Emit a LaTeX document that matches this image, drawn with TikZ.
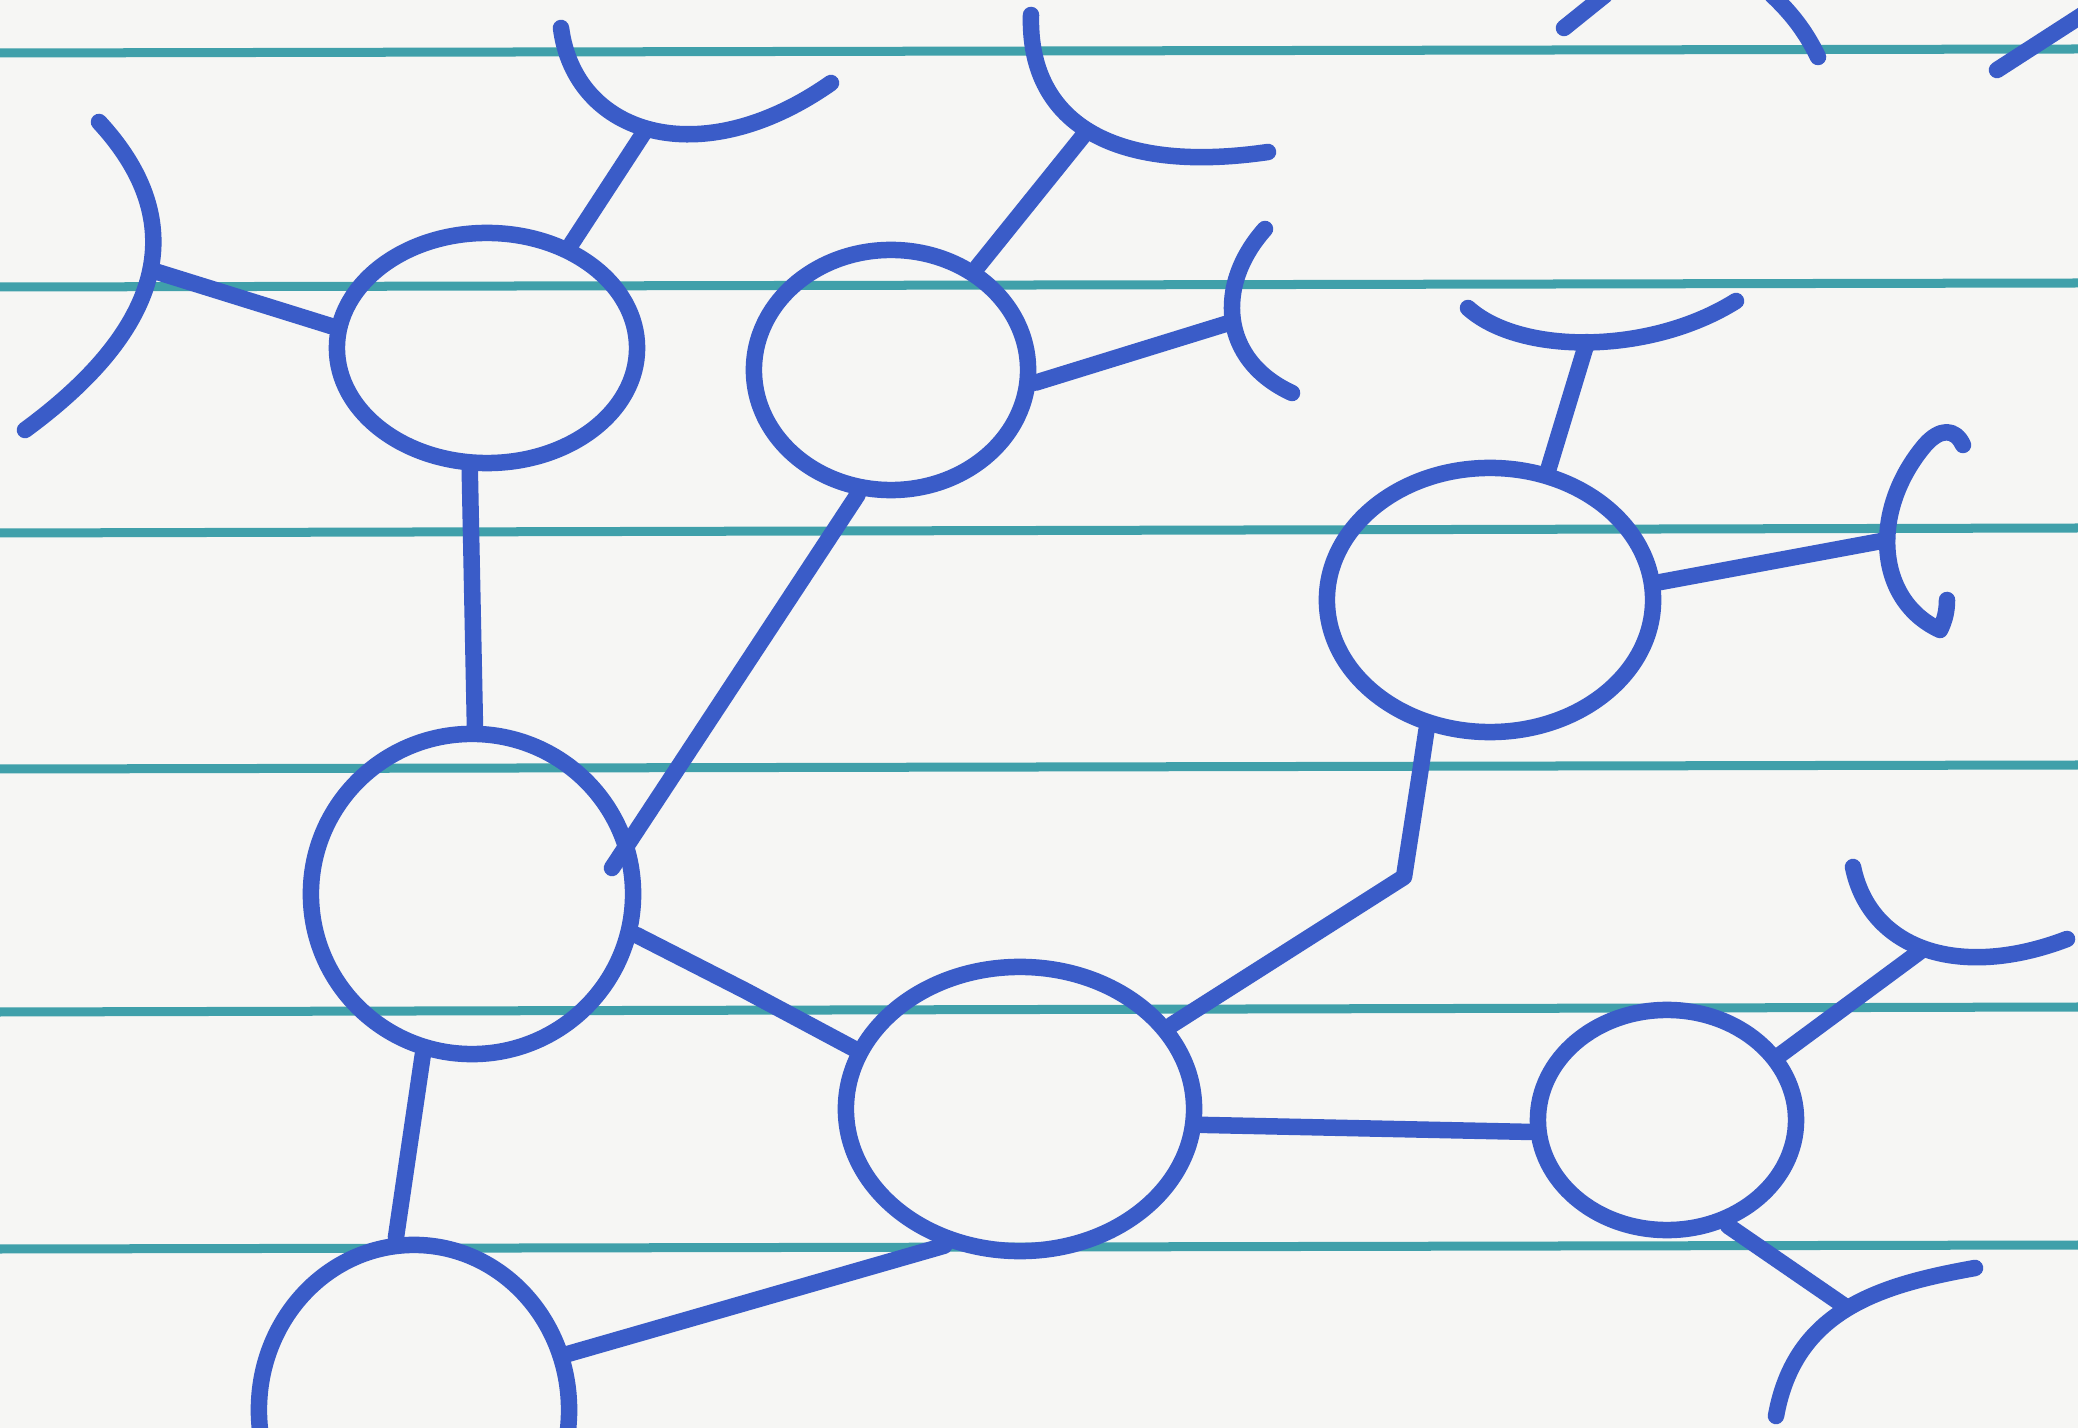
\documentclass[tikz,border=0pt]{standalone}
\usetikzlibrary{shapes.geometric}
\definecolor{paper}{RGB}{246,246,244}
\definecolor{rule}{RGB}{64,160,170}
\definecolor{ink}{RGB}{58,92,200}
\begin{document}
\begin{tikzpicture}[x=0.01cm,y=-0.01cm,
  ring/.style={draw=ink, line width=0.165cm, ellipse, inner sep=0pt},
  wire/.style={draw=ink, line width=0.165cm, line cap=round, line join=round},
  ruling/.style={draw=rule, line width=0.09cm}]
\useasboundingbox (0,0) rectangle (2078,1428);
\fill[paper] (0,0) rectangle (2078,1428);
\clip (0,0) rectangle (2078,1428);
% ruled lines
\draw[ruling] (0,53) -- (2078,49);
\draw[ruling] (0,287) -- (2078,283);
\draw[ruling] (0,533) -- (2078,528);
\draw[ruling] (0,769) -- (2078,765);
\draw[ruling] (0,1012) -- (2078,1007);
\draw[ruling] (0,1249) -- (2078,1245);
% rings
\node[ring, minimum width=3cm, minimum height=2.3cm] (c1) at (487,348) {};
\node[ring, minimum width=2.74cm, minimum height=2.4cm] (c2) at (891,370) {};
\node[ring, minimum width=3.26cm, minimum height=2.64cm] (c3) at (1490,600) {};
\node[ring, minimum width=3.22cm, minimum height=3.2cm] (c4) at (472,894) {};
\node[ring, minimum width=3.48cm, minimum height=2.84cm] (c5) at (1020,1109) {};
\node[ring, minimum width=2.58cm, minimum height=2.2cm] (c6) at (1667,1120) {};
\node[ring, minimum width=3.1cm, minimum height=3.3cm] (c7) at (414,1410) {};
% connector points
\coordinate (e24) at (612,868);
\coordinate (k45) at (746,991);
\coordinate (k35a) at (1419,780);
\coordinate (k35b) at (1404,877);
% connectors
\draw[wire] (c1.262) -- (c4.89);
\draw[wire] (c2.255) -- (e24);
\draw[wire] (c4.346) -- (k45) -- (c5.160);
\draw[wire] (c3.244) -- (k35a) -- (k35b) -- (c5.29);
\draw[wire] (c5.355) -- (c6.185);
\draw[wire] (c4.253) -- (c7.96);
\draw[wire] (c5.241) -- (c7.20);
% Y ends
\coordinate (j1) at (151,270);
\coordinate (j2) at (645,131);
\coordinate (j3) at (1087,131);
\coordinate (j4) at (1232,322);
\coordinate (j5) at (1587,342);
\coordinate (j6) at (1887,540);
\coordinate (j7) at (1922,950);
\coordinate (j8) at (1846,1307);
\draw[wire] (c1.172) -- (j1);
\draw[wire] (c1.51) -- (j2);
\draw[wire] (c2.50) -- (j3);
\draw[wire] (c2.355) -- (j4);
\draw[wire] (c3.66) -- (j5);
\draw[wire] (c3.6) -- (j6);
\draw[wire] (c6.30) -- (j7);
\draw[wire] (c6.300) -- (j8);
% Y arcs
\draw[wire] (99,122) .. controls (185,215) and (175,320) .. (25,430);
\draw[wire] (561,28) .. controls (575,135) and (700,175) .. (831,83);
\draw[wire] (1031,15) .. controls (1028,120) and (1110,175) .. (1268,152);
\draw[wire] (1265,229) .. controls (1215,285) and (1220,360) .. (1292,393);
\draw[wire] (1468,308) .. controls (1520,355) and (1650,355) .. (1736,301);
\draw[wire] (1963,445) .. controls (1955,428) and (1940,428) .. (1925,445)
   .. controls (1870,510) and (1875,600) .. (1940,630)
   .. controls (1945,620) and (1947,610) .. (1947,600);
\draw[wire] (1853,867) .. controls (1870,950) and (1960,980) .. (2067,939);
\draw[wire] (1975,1268) .. controls (1880,1285) and (1795,1310) .. (1776,1416);
% partial strokes at the top right
\draw[wire] (1564,28) -- (1605,-5);
\draw[wire] (1772,-5) .. controls (1790,12) and (1805,30) .. (1818,57);
\draw[wire] (1997,70) -- (2090,10);
\end{tikzpicture}
\end{document}
